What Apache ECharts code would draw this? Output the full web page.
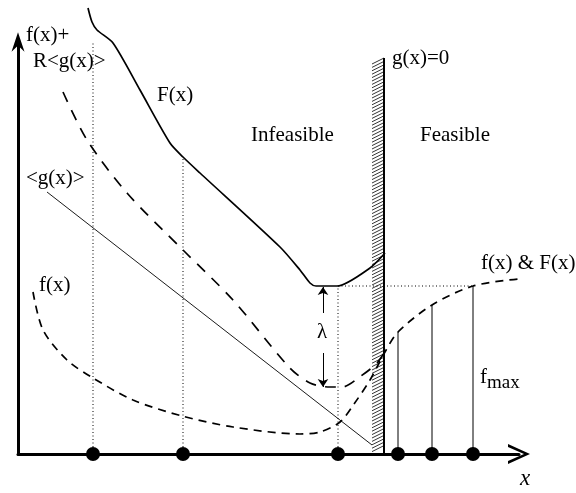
<!DOCTYPE html>
<html>
<head>
<meta charset="utf-8">
<script src="https://cdn.jsdelivr.net/npm/echarts@6/dist/echarts.min.js"></script>
<style>
  html, body { margin: 0; padding: 0; background: #fff; }
  #chart { width: 576px; height: 493px; }
</style>
</head>
<body>
<div id="chart"></div>
<script>
// 曲线数据（抽象单位，x 轴原点在左下角）
const bigFX = [7.0, 7.4, 7.9, 9.5, 12.2, 15.2, 16.5, 18.2, 26.2, 28.2, 29.2, 29.8, 31.9, 35.2, 36.7];
const bigFY = [44.6, 43.2, 42.4, 41.1, 36.4, 31.1, 29.7, 28.1, 20.7, 18.4, 17.1, 16.8, 16.8, 18.6, 20.1];

const penX = [4.5, 6.9, 10.9, 16.5, 21.5, 27.1, 29.2, 31.2, 32.4, 34.3, 35.9, 36.9];
const penY = [36.2, 31.4, 26.1, 20.4, 15.4, 8.7, 7.1, 6.7, 6.7, 7.8, 9.1, 10.6];

const fX = [1.5, 2.5, 4.9, 7.5, 11.5, 16.4, 21.5, 28.2, 30.2, 32.2, 33.6, 35.2, 36.7, 38.0, 41.4, 45.5, 50.0];
const fY = [16.2, 12.4, 9.4, 7.6, 5.4, 3.8, 2.7, 2.0, 2.2, 3.2, 5.0, 7.4, 10.2, 12.2, 14.9, 16.8, 17.5];

const gX = [2.9, 35.4];
const gY = [26.2, 0.9];

// 采样点
const infeasX = [7.5, 16.5, 32.0];
const infeasTop = [42.2, 29.7, 16.8];
const feasX = [38.0, 41.4, 45.5];
const feasTop = [12.2, 14.9, 16.8];

const fmaxLevel = 16.8;
const lambdaTop = 16.7, lambdaBottom = 6.7, lambdaGapTop = 14.1, lambdaGapBottom = 10.1;

// 约束边界 g(x)=0
const wallX = 36.6, wallWidth = 1.2, wallTop = 39.6;

const zip = (xs, ys) => xs.map((x, i) => [x, ys[i]]);
const serif = '"Liberation Serif", "DejaVu Serif", serif';

const chart = echarts.init(document.getElementById('chart'));

const series = [];

// 虚线采样竖线
infeasX.forEach((x, i) => {
  series.push({
    type: 'line', data: [[x, 0], [x, infeasTop[i]]], symbol: 'none', silent: true,
    lineStyle: { color: '#000', width: 1, type: [1, 2.5] }
  });
});
// 可行区实线竖线
feasX.forEach((x, i) => {
  series.push({
    type: 'line', data: [[x, 0], [x, feasTop[i]]], symbol: 'none', silent: true,
    lineStyle: { color: '#000', width: 1 }
  });
});
// f_max 水平点线
series.push({
  type: 'line', data: [[infeasX[2], fmaxLevel], [feasX[2], fmaxLevel]], symbol: 'none',
  lineStyle: { color: '#000', width: 1, type: [1, 2.5] }
});

series.push({
  type: 'custom', data: [[wallX, wallTop]], clip: false, silent: true,
  renderItem: function (params, api) {
    const bottomR = api.coord([api.value(0), 0]);
    const topR = api.coord([api.value(0), api.value(1)]);
    const left = api.coord([api.value(0) - wallWidth, 0])[0];
    const children = [];
    for (let y = topR[1]; y + 6 <= bottomR[1]; y += 3.4) {
      children.push({ type: 'line', shape: { x1: left, y1: y + 6, x2: bottomR[0], y2: y },
        style: { stroke: '#000', lineWidth: 0.8 } });
    }
    children.push({ type: 'line', shape: { x1: bottomR[0], y1: topR[1], x2: bottomR[0], y2: bottomR[1] },
      style: { stroke: '#000', lineWidth: 2 } });
    return { type: 'group', children: children };
  }
});

series.push({
  name: 'F(x)', type: 'line', data: zip(bigFX, bigFY), smooth: 0.25, symbol: 'none', clip: false,
  lineStyle: { color: '#000', width: 1.7 }
});
series.push({
  name: 'f+R<g>', type: 'line', data: zip(penX, penY), smooth: 0.3, symbol: 'none', clip: false,
  lineStyle: { color: '#000', width: 1.7, type: [11, 9] }
});
series.push({
  name: 'f(x)', type: 'line', data: zip(fX, fY), smooth: 0.3, symbol: 'none', clip: false,
  lineStyle: { color: '#000', width: 1.7, type: [8, 6] }
});
series.push({
  name: '<g(x)>', type: 'line', data: zip(gX, gY), symbol: 'none', clip: false,
  lineStyle: { color: '#000', width: 0.9 }
});

// λ 双向箭头
series.push({
  type: 'lines', coordinateSystem: 'cartesian2d', symbol: ['none', 'arrow'], symbolSize: 8,
  lineStyle: { color: '#000', width: 1, opacity: 1 },
  data: [
    { coords: [[30.5, lambdaGapTop], [30.5, lambdaTop]] },
    { coords: [[30.5, lambdaGapBottom], [30.5, lambdaBottom]] }
  ]
});

series.push({
  type: 'scatter', data: infeasX.concat(feasX).map(x => [x, 0]), symbolSize: 14,
  itemStyle: { color: '#000', opacity: 1 }, clip: false, z: 5
});

const txt = (text, left, top, extra) => Object.assign({
  type: 'text', left: left, top: top,
  style: { text: text, font: '21px ' + serif, fill: '#000' }
}, extra || {});

const option = {
  animation: false,
  grid: { left: 18, right: 57, top: 42, bottom: 39 },
  xAxis: {
    type: 'value', min: 0, max: 50.1,
    axisLine: { lineStyle: { color: '#000', width: 3 }, symbol: ['none', 'path://M0,22 L10,0 L20,22 L17,22 L10,6 L3,22 Z'], symbolSize: [20, 38] },
    axisTick: { show: false }, axisLabel: { show: false }, splitLine: { show: false }
  },
  yAxis: {
    type: 'value', min: 0, max: 41.2,
    axisLine: { lineStyle: { color: '#000', width: 3 }, symbol: ['none', 'path://M10,0 L20,30 L11.5,22 L11.5,30 L8.5,30 L8.5,22 L0,30 Z'], symbolSize: [13, 38] },
    axisTick: { show: false }, axisLabel: { show: false }, splitLine: { show: false }
  },
  graphic: [
    txt('f(x)+', 26, 25),
    txt('R<g(x)>', 33, 51),
    txt('F(x)', 157, 85),
    txt('Infeasible', 251, 125),
    txt('g(x)=0', 392, 48),
    txt('Feasible', 420, 125),
    txt('<g(x)>', 26, 168),
    txt('f(x)', 39, 275),
    txt('λ', 317, 322),
    txt('f(x) & F(x)', 481, 253),
    { type: 'text', left: 480, top: 367, style: { text: '{a|f}{b|max}', rich: {
      a: { font: '21px ' + serif, fill: '#000' },
      b: { font: '19px ' + serif, fill: '#000', padding: [12, 0, 0, 0] } } } },
    txt('x', 520, 467, { style: { text: 'x', font: 'italic 23px ' + serif, fill: '#000' } })
  ],
  series: series
};

chart.setOption(option);
</script>
</body>
</html>
